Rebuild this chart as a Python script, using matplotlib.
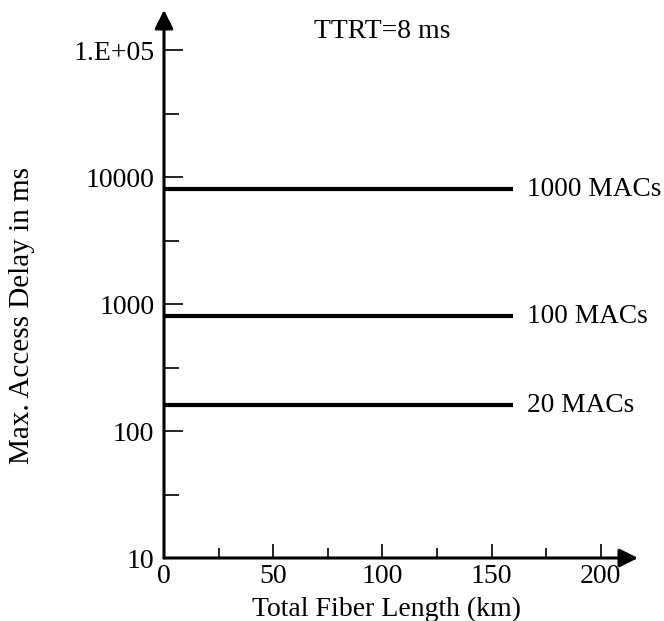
import matplotlib
matplotlib.use("Agg")
from matplotlib import pyplot as plt
from matplotlib.ticker import FixedLocator, FixedFormatter

# data
fiber_km = [0, 160]
delay_1000 = [8000, 8000]
delay_100 = [800, 800]
delay_20 = [160, 160]
series_labels = ["1000 MACs", "100 MACs", "20 MACs"]
y_ticks = [10, 100, 1000, 10000, 100000]
y_tick_labels = ["10", "100", "1000", "10000", "1.E+05"]
y_minor = [31.6, 316, 3160, 31600]
x_ticks = [0, 50, 100, 150, 200]
x_minor = [25, 75, 125, 175]

plt.rcParams["font.family"] = ["Liberation Serif", "DejaVu Serif"]
plt.rcParams["font.size"] = 20

fig = plt.figure(figsize=(6.64, 6.21), dpi=100)
ax = fig.add_axes([164 / 664, 63 / 621, 474 / 664, 548 / 621])
ax.set_yscale("log")
ax.set_xlim(0, 217)
ax.set_ylim(10, 2.07e5)

for y, lab in zip([delay_1000, delay_100, delay_20], series_labels):
    ax.plot(fiber_km, y, color="black", lw=3, solid_capstyle="butt")
    ax.text(fiber_km[-1] + 6, y[-1], lab, va="center", ha="left", fontsize=19.7)

for s in ax.spines.values():
    s.set_visible(False)

# axes with arrow heads
arrow = dict(arrowstyle="-|>", lw=2.2, color="black", mutation_scale=28,
             shrinkA=0, shrinkB=0)
ax.annotate("", xy=(0, 1), xytext=(0, 0), xycoords="axes fraction", arrowprops=arrow)
ax.annotate("", xy=(1, 0), xytext=(0, 0), xycoords="axes fraction", arrowprops=arrow)

ax.yaxis.set_major_locator(FixedLocator(y_ticks))
ax.yaxis.set_major_formatter(FixedFormatter(y_tick_labels))
ax.yaxis.set_minor_locator(FixedLocator(y_minor))
ax.yaxis.set_minor_formatter(FixedFormatter([]))
ax.xaxis.set_major_locator(FixedLocator(x_ticks))
ax.xaxis.set_minor_locator(FixedLocator(x_minor))

ax.tick_params(axis="y", which="major", direction="in", length=14, width=1.2, pad=7)
ax.tick_params(axis="y", which="minor", direction="in", length=11, width=1.2)
ax.tick_params(axis="x", which="major", direction="in", length=10, width=1.2, pad=4)
ax.tick_params(axis="x", which="minor", direction="in", length=7, width=1.2)

ax.set_xlabel("Total Fiber Length (km)", fontsize=20)
ax.xaxis.set_label_coords((386 - 164) / 474, -58 / 548)
ax.xaxis.label.set_va("baseline")

fig.text(22 / 664, 1 - 316 / 621, "Max. Access Delay in ms", rotation=90,
         ha="center", va="center", fontsize=21)
fig.text(382 / 664, 1 - 38 / 621, "TTRT=8 ms", ha="center", va="baseline", fontsize=20)

plt.savefig("out.png", dpi=100)
